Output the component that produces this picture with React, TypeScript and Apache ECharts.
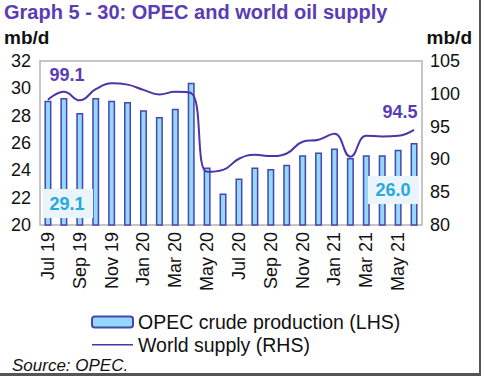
import React, { useEffect, useRef } from "react";
import * as echarts from "echarts";

const months = ["Jul 19","Aug 19","Sep 19","Oct 19","Nov 19","Dec 19","Jan 20","Feb 20","Mar 20","Apr 20","May 20","Jun 20","Jul 20","Aug 20","Sep 20","Oct 20","Nov 20","Dec 20","Jan 21","Feb 21","Mar 21","Apr 21","May 21","Jun 21"];
const opecCrude = [29.1,29.3,28.2,29.3,29.1,29.0,28.4,27.9,28.5,30.4,24.2,22.3,23.4,24.2,24.1,24.4,25.1,25.3,25.6,24.9,25.1,25.1,25.5,26.0];
const worldSupply = [99.1,100.3,99.0,100.7,101.6,101.4,100.6,99.9,100.3,100.1,88.1,88.4,90.1,90.7,90.5,90.9,92.7,93.0,93.9,90.4,93.6,93.5,93.6,94.5];
const leftTicks = { min: 20, max: 32, interval: 2 };
const rightTicks = { min: 80, max: 105, interval: 5 };

const FONT = "Liberation Sans, Arial, sans-serif";
const PURPLE = "#5a3cb4";
const LINE = "#4e34a8";
const CYAN = "#26a9dc";
const LINE_ICON = "path://M0,0 L0.01,0 L0,0.01 Z M0,4.6 L41,4.6 L41,6.1 L0,6.1 Z M40.99,11 L41,11 L41,10.99 Z";

export default function App() {
  const ref = useRef<HTMLDivElement>(null);
  useEffect(() => {
    if (!ref.current) return;
    const chart = echarts.init(ref.current, null, { renderer: "svg" });
    const last = worldSupply.length - 1;
    chart.setOption({
      animation: false,
      backgroundColor: "#ffffff",
      textStyle: { fontFamily: FONT },
      title: {
        text: "Graph 5 - 30: OPEC and world oil supply",
        left: 4,
        top: 2,
        padding: 0,
        textStyle: { fontFamily: FONT, fontSize: 20, fontWeight: "bold", color: PURPLE },
      },
      grid: {
        left: 40,
        right: 62,
        top: 61,
        bottom: 153,
        show: true,
        borderColor: "#b4b4b4",
        borderWidth: 1.5,
        backgroundColor: "transparent",
      },
      legend: {
        orient: "vertical",
        left: 91,
        top: 312,
        itemWidth: 41,
        itemHeight: 11,
        itemGap: 3,
        padding: 0,
        textStyle: { fontFamily: FONT, fontSize: 19.5, color: "#111" },
        data: [
          { name: "OPEC crude production (LHS)" },
          { name: "World supply (RHS)", icon: LINE_ICON, itemStyle: { color: LINE, borderWidth: 0 } },
        ],
      },
      xAxis: {
        type: "category",
        data: months,
        axisLine: { show: false },
        axisTick: { show: false },
        axisLabel: {
          interval: 1,
          rotate: 90,
          margin: 7,
          fontSize: 18,
          color: "#111",
          fontFamily: FONT,
        },
      },
      yAxis: [
        {
          type: "value",
          min: leftTicks.min,
          max: leftTicks.max,
          interval: leftTicks.interval,
          splitLine: { show: false },
          axisLine: { show: false },
          axisTick: { show: false },
          axisLabel: { fontSize: 18, color: "#111", margin: 9, fontFamily: FONT },
        },
        {
          type: "value",
          min: rightTicks.min,
          max: rightTicks.max,
          interval: rightTicks.interval,
          splitLine: { show: false },
          axisLine: { show: false },
          axisTick: { show: false },
          axisLabel: { fontSize: 18, color: "#111", margin: 8, fontFamily: FONT },
        },
      ],
      series: [
        {
          name: "OPEC crude production (LHS)",
          type: "bar",
          yAxisIndex: 0,
          data: opecCrude,
          barWidth: 7,
          itemStyle: { color: "#95d8ff", borderColor: "#4646ae", borderWidth: 1.5 },
        },
        {
          name: "World supply (RHS)",
          type: "line",
          yAxisIndex: 1,
          data: worldSupply,
          smooth: 0.45,
          symbol: "none",
          lineStyle: { color: LINE, width: 2 },
          itemStyle: { color: LINE },
        },
      ],
      graphic: [
        { type: "text", left: 4, top: 28, z: 100, style: { text: "mb/d", font: `bold 19px ${FONT}`, fill: "#111" } },
        { type: "text", right: 12, top: 28, z: 100, style: { text: "mb/d", font: `bold 19px ${FONT}`, fill: "#111" } },
        { type: "text", x: 67, y: 75, z: 100, style: { text: worldSupply[0].toFixed(1), font: `bold 18px ${FONT}`, fill: PURPLE, align: "center", verticalAlign: "middle" } },
        { type: "text", x: 400, y: 112, z: 100, style: { text: worldSupply[last].toFixed(1), font: `bold 18px ${FONT}`, fill: PURPLE, align: "center", verticalAlign: "middle" } },
        { type: "rect", z: 100, shape: { x: 43, y: 189, width: 50, height: 29 }, style: { fill: "#eaf4fb" } },
        { type: "text", z: 101, x: 67, y: 204, style: { text: opecCrude[0].toFixed(1), font: `bold 18px ${FONT}`, fill: CYAN, align: "center", verticalAlign: "middle" } },
        { type: "rect", z: 100, shape: { x: 368, y: 176, width: 51, height: 28 }, style: { fill: "#eaf4fb" } },
        { type: "text", z: 101, x: 393, y: 190, style: { text: opecCrude[last].toFixed(1), font: `bold 18px ${FONT}`, fill: CYAN, align: "center", verticalAlign: "middle" } },
        { type: "text", left: 12, top: 357, z: 100, style: { text: "Source: OPEC.", font: `italic 17px ${FONT}`, fill: "#111" } },
        { type: "rect", z: 100, shape: { x: 479, y: 0, width: 2, height: 376 }, style: { fill: "#555" } },
        { type: "rect", z: 100, shape: { x: 0, y: 373, width: 481, height: 3 }, style: { fill: "#555" } },
      ],
    });
    return () => chart.dispose();
  }, []);
  return <div ref={ref} style={{ position: "fixed", left: 0, top: 0, width: 484, height: 378 }} />;
}
